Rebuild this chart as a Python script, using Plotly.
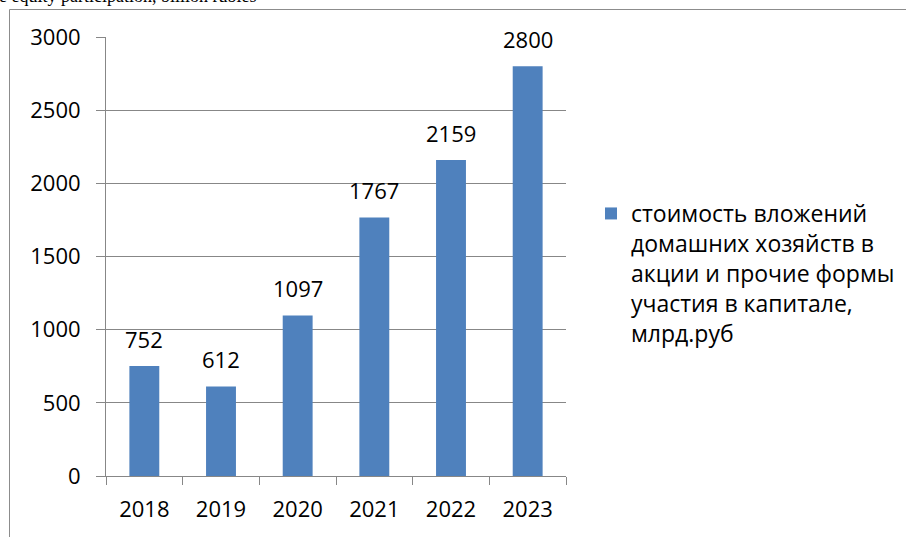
import plotly.graph_objects as go

# Household equity holdings by year, billion rubles
years = ["2018", "2019", "2020", "2021", "2022", "2023"]
values = [752, 612, 1097, 1767, 2159, 2800]
series_name = "стоимость вложений<br>домашних хозяйств в<br>акции и прочие формы<br>участия в капитале,<br>млрд.руб"
y_ticks = [0, 500, 1000, 1500, 2000, 2500, 3000]
caption = "e equity participation, billion rubles"

W, H = 906, 537
ML, MR, MT, MB = 106, 340, 37, 61
PW, PH = W - ML - MR, H - MT - MB

BAR_COLOR = "#4F81BD"
GRID = "#878787"
FONT = "Open Sans"


def px_x(px):
    return (px - ML) / PW


def px_y(py):
    return (H - MB - py) / PH


fig = go.Figure()
fig.add_trace(go.Bar(
    x=years, y=values, name=series_name,
    marker=dict(color=BAR_COLOR, line=dict(width=0)),
    showlegend=True,
))

# value labels above each bar (x given as category index)
for i, v in enumerate(values):
    fig.add_annotation(x=i, y=v, text=str(v), showarrow=False,
                       xref="x", yref="y", yanchor="middle", yshift=27,
                       font=dict(family=FONT, size=22, color="#000000"))

# caption line partially visible at the top
fig.add_annotation(x=px_x(258), y=px_y(-3.5), xref="paper", yref="paper",
                   text=caption, showarrow=False, xanchor="right", yanchor="middle",
                   font=dict(family="Liberation Serif", size=18, color="#000000"))

# outer frame of the chart box
frame = dict(color="#8c8c8c", width=1)
fig.add_shape(type="line", xref="paper", yref="paper",
              x0=px_x(9.5), x1=px_x(9.5), y0=px_y(9.5), y1=px_y(H + 5), line=frame)
fig.add_shape(type="line", xref="paper", yref="paper",
              x0=px_x(9.5), x1=px_x(W + 5), y0=px_y(9.5), y1=px_y(9.5), line=frame)

fig.update_layout(
    width=W, height=H,
    margin=dict(l=ML, r=MR, t=MT, b=MB, pad=0, autoexpand=False),
    paper_bgcolor="#ffffff", plot_bgcolor="#ffffff",
    bargap=0.61,
    font=dict(family=FONT, size=22, color="#000000"),
    legend=dict(x=px_x(591), y=px_y(192), xanchor="left", yanchor="top",
                valign="top", font=dict(family=FONT, size=23, color="#000000"),
                bgcolor="rgba(0,0,0,0)", borderwidth=0, tracegroupgap=0),
    xaxis=dict(type="category", categoryorder="array", categoryarray=years,
               range=[-0.5, len(years) - 0.5], autorange=False,
               showgrid=False, showline=True, linecolor=GRID,
               linewidth=1, ticks="outside", tickson="boundaries", ticklen=8,
               tickcolor=GRID, tickwidth=1, ticklabelstandoff=14, tickangle=0,
               tickfont=dict(family=FONT, size=22), fixedrange=True),
    yaxis=dict(range=[0, 3000], autorange=False, tickvals=y_ticks, showgrid=True,
               gridcolor=GRID, gridwidth=1, showline=True, linecolor=GRID, linewidth=1,
               ticks="outside", ticklen=9, tickcolor=GRID, tickwidth=1,
               ticklabelstandoff=11, zeroline=False,
               tickfont=dict(family=FONT, size=22), fixedrange=True),
)

fig.write_html("out.html")
